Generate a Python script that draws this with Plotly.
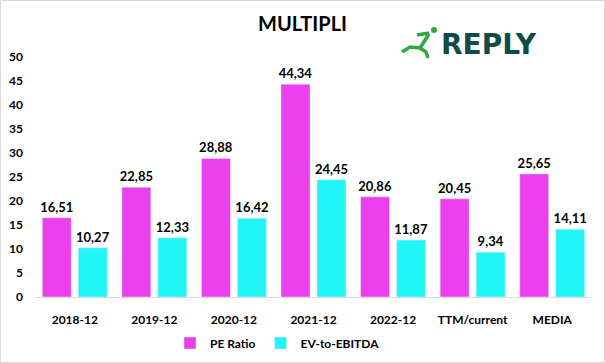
import plotly.graph_objects as go

categories = ["2018-12", "2019-12", "2020-12", "2021-12", "2022-12", "TTM/current", "MEDIA"]
pe_ratio = [16.51, 22.85, 28.88, 44.34, 20.86, 20.45, 25.65]
ev_ebitda = [10.27, 12.33, 16.42, 24.45, 11.87, 9.34, 14.11]
y_ticks = [0, 5, 10, 15, 20, 25, 30, 35, 40, 45, 50]

W, H = 605, 363
L, R, T, B = 35, 13, 57, 66
pw, ph = W - L - R, H - T - B

def px(x):
    return (x - L) / pw

def py(y):
    return (H - B - y) / ph

FONT = "Lato"

fig = go.Figure()
for name, vals, col in [("PE Ratio", pe_ratio, "#EA3FEA"), ("EV-to-EBITDA", ev_ebitda, "#22F5F5")]:
    fig.add_trace(go.Bar(x=categories, y=vals, name=name, marker_color=col,
                         texttemplate="%{y:.2f}", textposition="outside", cliponaxis=False,
                         constraintext="none",
                         textfont=dict(size=13, color="black", family=FONT, weight="bold")))

shapes = [
    dict(type="rect", xref="paper", yref="paper", x0=px(0.5), x1=px(W - 0.5), y0=py(H - 0.5), y1=py(0.5),
         line=dict(color="#D9D9D9", width=1), fillcolor="rgba(0,0,0,0)", layer="below"),
]
green = "#2EAA3C"
runner = [
    [(417, 35), (429, 33)],
    [(429, 34), (420, 48)],
    [(420, 48), (410, 47), (402, 52)],
    [(420, 48), (426, 52), (428, 58)],
]
for seg in runner:
    path = "M " + " L ".join(f"{px(a)},{py(b)}" for a, b in seg)
    shapes.append(dict(type="path", xref="paper", yref="paper", path=path,
                       line=dict(color=green, width=3.5)))
shapes.append(dict(type="circle", xref="paper", yref="paper", x0=px(431), x1=px(437), y0=py(33), y1=py(27),
                   fillcolor=green, line=dict(color=green, width=0)))

fig.update_layout(
    width=W, height=H,
    margin=dict(l=L, r=R, t=T, b=B, autoexpand=False),
    paper_bgcolor="white", plot_bgcolor="white",
    separators=",.",
    barmode="group", bargap=0.095, bargroupgap=0.195,
    title=dict(text="MULTIPLI", x=0.5, xref="container", xanchor="center", y=1 - 24 / H, yanchor="middle",
               font=dict(size=20, family=FONT, color="black", weight="bold")),
    font=dict(family=FONT, color="black"),
    legend=dict(orientation="h", x=px(170), xanchor="left", y=py(343), yanchor="middle",
                font=dict(size=12, family=FONT, color="black", weight="bold"),
                itemwidth=30, traceorder="normal"),
    xaxis=dict(type="category", showline=True, linecolor="#D9D9D9", linewidth=1, showgrid=False, ticks="",
               tickfont=dict(size=12, family=FONT, color="black", weight="bold"), ticklabelstandoff=12),
    yaxis=dict(range=[0, 50], tickvals=y_ticks, showgrid=False, zeroline=False, showline=False,
               tickfont=dict(size=12, family=FONT, color="black", weight="bold"), ticklabelstandoff=11),
    shapes=shapes,
    annotations=[dict(text="REPLY", xref="paper", yref="paper", x=px(439), y=py(45), xanchor="left",
                      yanchor="middle", showarrow=False,
                      font=dict(size=28, family="DejaVu Sans", color="#124A48", weight="bold"))],
)

fig.write_html("out.html", config={"displayModeBar": False},
               post_script="document.body.style.margin='0';")
